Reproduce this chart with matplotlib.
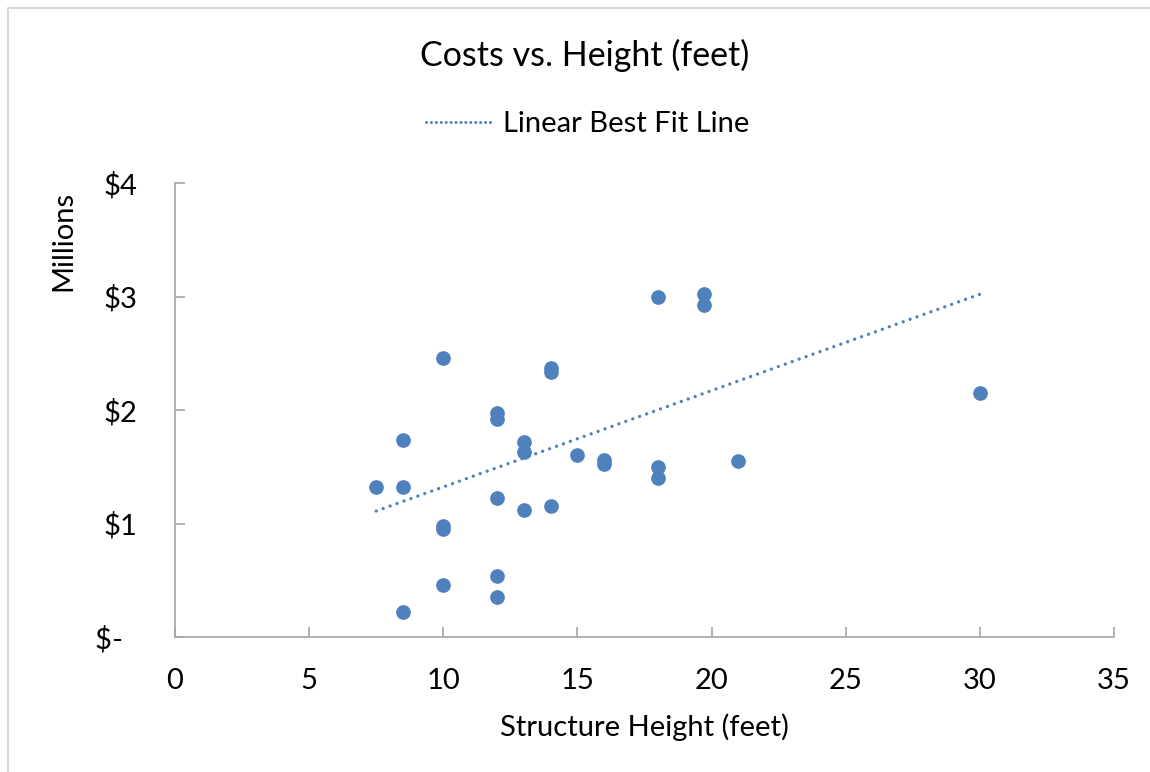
import numpy as np
import matplotlib.pyplot as plt
from matplotlib.lines import Line2D

# structure height (feet) and cost (millions of dollars)
height = [7.5, 8.5, 8.5, 8.5, 10, 10, 10, 10, 12, 12, 12, 12, 12,
          13, 13, 13, 14, 14, 14, 15, 16, 16, 18, 18, 18, 19.7, 19.7, 21, 30]
cost = [1.32, 1.32, 1.74, 0.22, 2.455, 0.98, 0.95, 0.455, 1.97, 1.92, 1.225, 0.535, 0.355,
        1.72, 1.63, 1.12, 2.37, 2.335, 1.155, 1.60, 1.56, 1.52, 3.00, 1.50, 1.405, 3.02, 2.925, 1.55, 2.15]

# best fit line as drawn in the original chart
fit_x = [7.5, 30]
fit_y = [1.11, 3.02]

x_ticks = [0, 5, 10, 15, 20, 25, 30, 35]
y_ticks = [0, 1, 2, 3, 4]
y_labels = ["$-  ", "$1", "$2", "$3", "$4"]

blue = "#4f81bd"
axis_grey = "#a6a6a6"
plt.rcParams['font.family'] = ['Lato', 'DejaVu Sans']

fig = plt.figure(figsize=(11.5, 7.72), dpi=100)
ax = fig.add_axes([175 / 1150, 1 - 637 / 772, 939 / 1150, 454 / 772])

ax.scatter(height, cost, s=112, color=blue, zorder=3, linewidths=0)

ax.plot(fit_x, fit_y, color=blue, lw=2.4,
        linestyle=(0, (0.01, 2.2)), dash_capstyle='round', zorder=2)

ax.set_xlim(0, 35)
ax.set_ylim(0, 4)
ax.set_xticks(x_ticks)
ax.set_yticks(y_ticks)
ax.set_yticklabels(y_labels)

for side in ["top", "right"]:
    ax.spines[side].set_visible(False)
for side in ["left", "bottom"]:
    ax.spines[side].set_color(axis_grey)
    ax.spines[side].set_linewidth(1.2)
ax.tick_params(direction="in", length=7, width=1.2, color=axis_grey,
               labelsize=21, labelcolor="black")
ax.tick_params(axis="x", pad=22)
ax.tick_params(axis="y", pad=27)

fig.text(644 / 1150, 1 - 727 / 772, "Structure Height (feet)", ha="center", va="center", fontsize=21)
fig.text(63 / 1150, 1 - 241 / 772, "Millions", ha="center", va="center", rotation=90, fontsize=21)
fig.text(585 / 1150, 1 - 55 / 772, "Costs vs. Height (feet)", ha="center", va="center", fontsize=24.5)

handle = Line2D([], [], color=blue, lw=2.2, linestyle=(0, (0.01, 1.6)), dash_capstyle='round')
fig.legend([handle], ["Linear Best Fit Line"], loc="center", bbox_to_anchor=(588 / 1150, 1 - 124 / 772),
           frameon=False, fontsize=21, handlelength=2.2, handletextpad=0.45)

# chart area border (top and left edges visible)
fig.add_artist(Line2D([8 / 1150, 8 / 1150, 1], [0, 1 - 8 / 772, 1 - 8 / 772],
                      transform=fig.transFigure, color="#d9d9d9", lw=1.5))

fig.savefig("out.png", dpi=100)
